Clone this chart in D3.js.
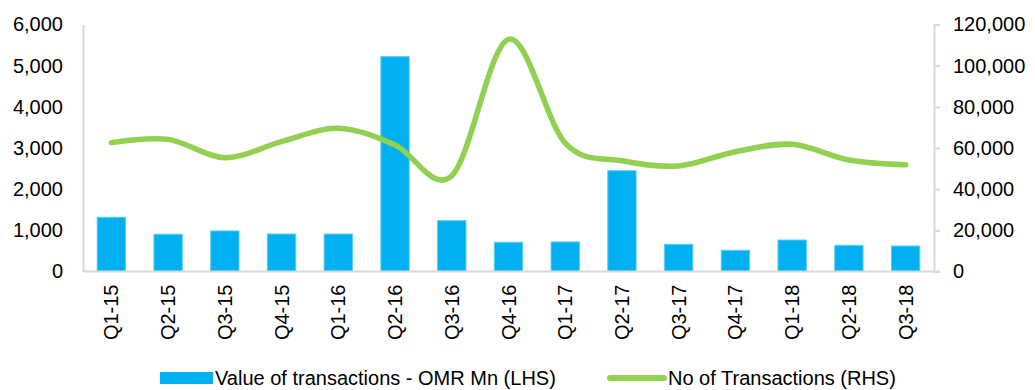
<!DOCTYPE html>
<html>
<head>
<meta charset="utf-8">
<script src="https://cdn.jsdelivr.net/npm/d3@7"></script>
<style>
  html, body { margin: 0; padding: 0; background: #fff; }
  svg { display: block; font-family: "Liberation Sans", Arial, sans-serif; }
</style>
</head>
<body>
<svg id="chart" width="1035" height="390"></svg>
<script>
// Quarterly transactions: value (OMR Mn, left axis) and count (right axis)
const quarters = ["Q1-15","Q2-15","Q3-15","Q4-15","Q1-16","Q2-16","Q3-16","Q4-16",
                  "Q1-17","Q2-17","Q3-17","Q4-17","Q1-18","Q2-18","Q3-18"];
const valueOMR = [1317, 905, 985, 910, 910, 5220, 1235, 710, 718, 2448, 660, 515, 765, 636, 620];
const numTransactions = [62600, 64200, 55300, 63100, 69600, 61500, 46500, 112800,
                         62400, 53800, 51300, 58200, 61800, 54200, 51900];
const leftTicks = [0, 1000, 2000, 3000, 4000, 5000, 6000];
const rightTicks = [0, 20000, 40000, 60000, 80000, 100000, 120000];
const seriesNames = ["Value of transactions - OMR Mn (LHS)", "No of Transactions (RHS)"];

const svg = d3.select("#chart");
const plot = { left: 83, right: 934, top: 24.5, bottom: 271.5 };
const axisColor = "#d9d9d9";
const barColor = "#00b0f0";
const lineColor = "#92d050";
const fmt = d3.format(",");

const x = d3.scaleBand().domain(quarters).range([plot.left, plot.right]).paddingInner(0.5).paddingOuter(0.25);
const yL = d3.scaleLinear().domain([0, 6000]).range([plot.bottom, plot.top]);
const yR = d3.scaleLinear().domain([0, 120000]).range([plot.bottom, plot.top]);

// Left axis: line only, labels right-aligned
const gL = svg.append("g").attr("transform", `translate(${plot.left},0)`)
  .call(d3.axisLeft(yL).tickValues(leftTicks).tickFormat(fmt).tickSize(0).tickPadding(20));
gL.select(".domain").attr("stroke", axisColor).attr("stroke-width", 2);
gL.selectAll("text").attr("font-size", 20).attr("fill", "#000")
  .attr("font-family", "'Liberation Sans', Arial, sans-serif");

// Right axis: line with outward ticks
const gR = svg.append("g").attr("transform", `translate(${plot.right},0)`)
  .call(d3.axisRight(yR).tickValues(rightTicks).tickFormat(fmt).tickSizeInner(6).tickSizeOuter(6).tickPadding(13));
gR.select(".domain").attr("stroke", axisColor).attr("stroke-width", 2);
gR.selectAll(".tick line").attr("stroke", axisColor).attr("stroke-width", 2);
gR.selectAll("text").attr("font-size", 20).attr("fill", "#000")
  .attr("font-family", "'Liberation Sans', Arial, sans-serif");

// Bars
svg.append("g").selectAll("rect").data(quarters).join("rect")
  .attr("x", d => x(d))
  .attr("width", x.bandwidth())
  .attr("y", (d, i) => yL(valueOMR[i]))
  .attr("height", (d, i) => yL(0) - yL(valueOMR[i]))
  .attr("fill", barColor)
  .attr("stroke", "#5ccdf6")
  .attr("stroke-width", 1);

// Bottom axis: baseline and rotated category labels
const gB = svg.append("g").attr("transform", `translate(0,${plot.bottom})`)
  .call(d3.axisBottom(x).tickSize(0).tickPadding(0));
gB.select(".domain").attr("d", `M${plot.left},0H${plot.right + 6}`)
  .attr("stroke", axisColor).attr("stroke-width", 2);
gB.selectAll("text")
  .attr("font-size", 20).attr("fill", "#000")
  .attr("font-family", "'Liberation Sans', Arial, sans-serif")
  .attr("text-anchor", "end")
  .attr("transform", "translate(0,13) rotate(-90)")
  .attr("x", 0).attr("y", 0).attr("dy", "0.35em");

// Smoothed line for number of transactions
const line = d3.line()
  .x((d, i) => x(quarters[i]) + x.bandwidth() / 2)
  .y(d => yR(d))
  .curve(d3.curveCardinal.tension(0));
svg.append("path").datum(numTransactions)
  .attr("d", line)
  .attr("fill", "none")
  .attr("stroke", lineColor)
  .attr("stroke-width", 5.5)
  .attr("stroke-linecap", "round")
  .attr("stroke-linejoin", "round");

// Legend
const lg = svg.append("g").attr("font-size", 20).attr("fill", "#000");
lg.append("rect").attr("x", 160).attr("y", 372).attr("width", 53).attr("height", 12).attr("fill", barColor);
lg.append("text").attr("x", 215).attr("y", 378).attr("dy", "0.35em").text(seriesNames[0]);
lg.append("line").attr("x1", 610).attr("x2", 664).attr("y1", 378).attr("y2", 378)
  .attr("stroke", lineColor).attr("stroke-width", 6).attr("stroke-linecap", "round");
lg.append("text").attr("x", 668).attr("y", 378).attr("dy", "0.35em").text(seriesNames[1]);
</script>
</body>
</html>
